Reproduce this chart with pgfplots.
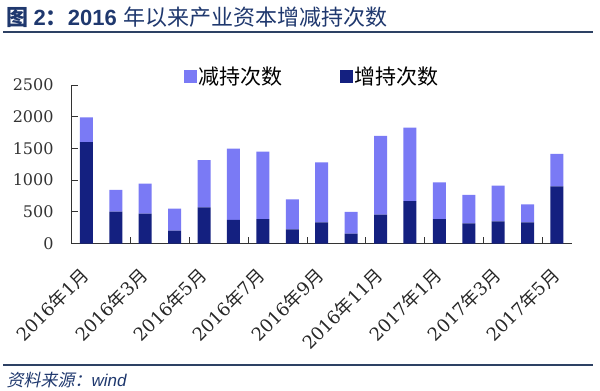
\documentclass[border=0pt]{standalone}
\usepackage{fontspec}
\usepackage{pgfplots}
\pgfplotsset{compat=1.18}
\setmainfont{DejaVu Serif}
\newfontfamily\cjk{Noto Sans CJK SC}
\newfontfamily\cjkit[FakeSlant=0.2]{Noto Sans CJK SC}
\newfontfamily\arialf{Liberation Sans}
\definecolor{darkbar}{RGB}{20,32,128}
\definecolor{lightbar}{RGB}{122,122,245}
\definecolor{titleblue}{RGB}{31,56,110}
\definecolor{linecol}{RGB}{45,65,100}
\newcommand\cn[1]{{\cjk #1}}
\begin{document}
\begin{tikzpicture}[x=1bp,y=1bp]
\useasboundingbox (0bp,0bp) rectangle (600bp,391bp);
\node[anchor=west, inner sep=0pt, text=titleblue] at (6.5bp,374bp) {\fontsize{22bp}{25bp}\selectfont\cjk\bfseries 图 \arialf 2\cjk ：\arialf 2016 \cjk\mdseries 年以来产业资本增减持次数};
\draw[linecol, line width=1.8bp] (3bp,358.7bp) -- (593bp,358.7bp);
\draw[linecol, line width=1.5bp] (3bp,26bp) -- (593bp,26bp);
\node[anchor=west, inner sep=0pt, text=titleblue] at (6.5bp,11bp) {\fontsize{17bp}{20bp}\selectfont\cjkit 资料来源：\arialf\itshape wind};
\begin{axis}[
  at={(71.7bp,147.5bp)}, anchor=south west,
  width=500bp, height=158.5bp, scale only axis,
  xmin=-0.5, xmax=16.5, ymin=0, ymax=2500,
  axis x line*=bottom, axis y line*=left,
  axis line style={black!80, line width=0.9bp, -},
  ybar stacked, bar width=13bp,
  ytick={0,500,...,2500},
  xtick={0,2,...,16},
  xticklabels={2016\cn{年}1\cn{月},2016\cn{年}3\cn{月},2016\cn{年}5\cn{月},2016\cn{年}7\cn{月},2016\cn{年}9\cn{月},2016\cn{年}11\cn{月},2017\cn{年}1\cn{月},2017\cn{年}3\cn{月},2017\cn{年}5\cn{月}},
  minor xtick={1.5,3.5,...,15.5},
  tick align=inside,
  major tick length=6bp, minor tick length=6bp,
  tick style={black!80, line width=0.8bp},
  major x tick style={draw=none},
  /pgf/number format/assume math mode=true,
  yticklabel style={font=\fontsize{16bp}{18bp}\selectfont, text=black!80, inner sep=0pt, anchor=east, xshift=-18bp},
  xticklabel style={font=\fontsize{18bp}{20bp}\selectfont, text=black!85, inner sep=0pt, xshift=-7bp, yshift=-22bp, rotate=45, anchor=north east},
  scaled y ticks=false,
  yticklabel={\pgfmathprintnumber[fixed,1000 sep={}]{\tick}},
  legend columns=2,
  reverse legend,
  legend style={draw=none, fill=none, at={(0.2246,1.054)}, anchor=west, font=\fontsize{21bp}{24bp}\selectfont\cjk, /tikz/every even column/.style={column sep=55bp}, inner sep=0pt, outer sep=0pt},
  legend image code/.code={\fill[#1] (0bp,-6.5bp) rectangle (13bp,6.5bp);},
]
\addplot[fill=darkbar, draw=none] coordinates {
(0,1600) (1,502) (2,470) (3,202) (4,571) (5,371) (6,386) (7,224) (8,334) (9,155) (10,454) (11,670) (12,386) (13,318) (14,350) (15,334) (16,902)};
\addlegendentry{增持次数}
\addplot[fill=lightbar, draw=none] coordinates {
(0,390) (1,342) (2,473) (3,347) (4,746) (5,1124) (6,1062) (7,473) (8,947) (9,342) (10,1242) (11,1156) (12,579) (13,447) (14,562) (15,284) (16,510)};
\addlegendentry{减持次数}
\end{axis}
\end{tikzpicture}
\end{document}
